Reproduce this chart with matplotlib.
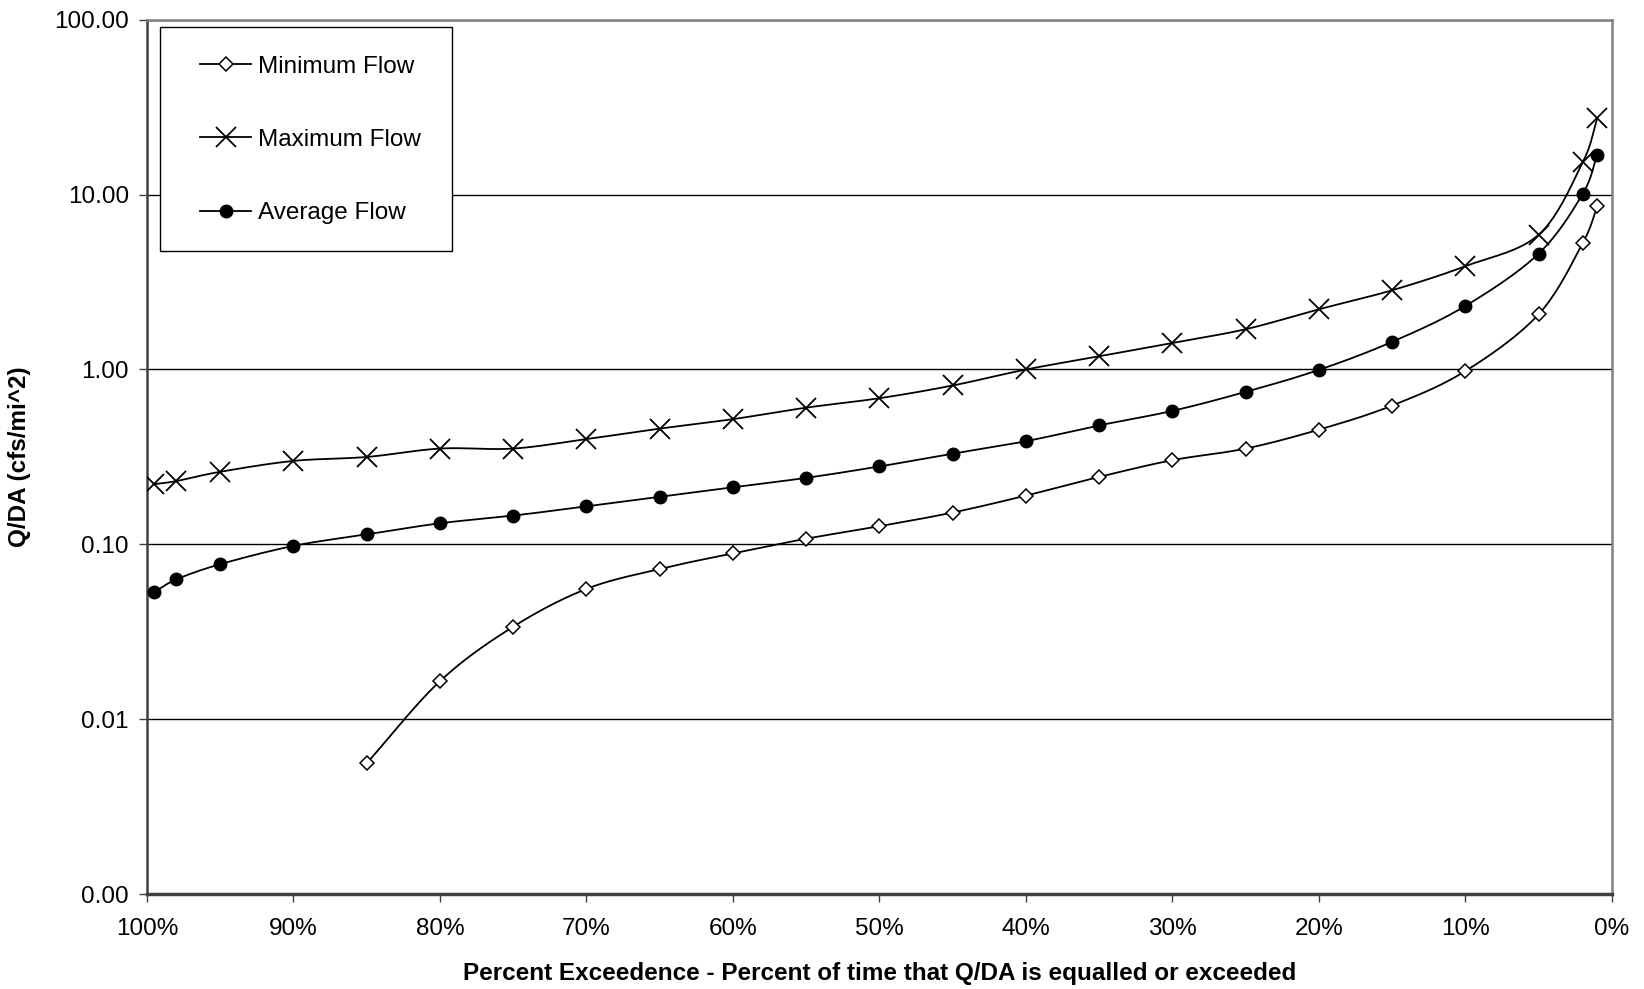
import numpy as np
import matplotlib
matplotlib.use("Agg")
import matplotlib.pyplot as plt
from matplotlib.lines import Line2D
from matplotlib.patches import Rectangle
from matplotlib.ticker import FuncFormatter, FixedLocator, NullLocator

plt.rcParams['font.family'] = ['Liberation Sans', 'DejaVu Sans']

# percent exceedence
pct_max = [99.5, 98, 95, 90, 85, 80, 75, 70, 65, 60, 55, 50, 45, 40, 35, 30, 25, 20, 15, 10, 5, 2, 1]
max_flow = [0.221, 0.23, 0.26, 0.30, 0.316, 0.353, 0.353, 0.40, 0.459, 0.52, 0.605, 0.685, 0.81, 1.0,
            1.19, 1.42, 1.70, 2.21, 2.84, 3.90, 5.9, 15.3, 27.3]

pct_avg = [99.5, 98, 95, 90, 85, 80, 75, 70, 65, 60, 55, 50, 45, 40, 35, 30, 25, 20, 15, 10, 5, 2, 1]
avg_flow = [0.0533, 0.063, 0.077, 0.098, 0.114, 0.132, 0.146, 0.165, 0.187, 0.212, 0.24, 0.279, 0.33,
            0.389, 0.479, 0.58, 0.745, 0.995, 1.44, 2.31, 4.60, 10.1, 16.9]

pct_min = [85, 80, 75, 70, 65, 60, 55, 50, 45, 40, 35, 30, 25, 20, 15, 10, 5, 2, 1]
min_flow = [0.0056, 0.0165, 0.0338, 0.0556, 0.0723, 0.0888, 0.1077, 0.127, 0.152, 0.19, 0.243, 0.303,
            0.353, 0.453, 0.622, 0.98, 2.07, 5.28, 8.57]

xticks = [100, 90, 80, 70, 60, 50, 40, 30, 20, 10, 0]
yticks = [0.001, 0.01, 0.1, 1, 10, 100]


def smooth(x, y, n=20):
    # catmull-rom through the points, done in x / log10(y) space (like excel smoothed lines)
    px = np.asarray(x, float)
    py = np.log10(np.asarray(y, float))
    px = np.concatenate([[2 * px[0] - px[1]], px, [2 * px[-1] - px[-2]]])
    py = np.concatenate([[2 * py[0] - py[1]], py, [2 * py[-1] - py[-2]]])
    t = np.linspace(0, 1, n)
    ox, oy = [], []
    for i in range(1, len(px) - 2):
        for p, out in ((px, ox), (py, oy)):
            p0, p1, p2, p3 = p[i - 1], p[i], p[i + 1], p[i + 2]
            out.append(0.5 * (2 * p1 + (-p0 + p2) * t + (2 * p0 - 5 * p1 + 4 * p2 - p3) * t ** 2
                              + (-p0 + 3 * p1 - 3 * p2 + p3) * t ** 3))
    return np.concatenate(ox), 10 ** np.concatenate(oy)


fs = 17.5
fig = plt.figure(figsize=(16.44, 9.89), dpi=100)
ax = fig.add_axes([0.0894, 0.096, 0.8911, 0.884])

lw = 1.3
series = [
    (pct_min, min_flow, dict(marker='D', ms=7, mfc='white', mec='black', mew=1.1), 'Minimum Flow'),
    (pct_max, max_flow, dict(marker='x', ms=14, mec='black', mew=1.3), 'Maximum Flow'),
    (pct_avg, avg_flow, dict(marker='o', ms=9, mfc='black', mec='black'), 'Average Flow'),
]
handles = []
for x, y, mk, name in series:
    sx, sy = smooth(x, y)
    ax.plot(sx, sy, color='black', lw=lw, zorder=3)
    ax.plot(x, y, ls='none', zorder=4, **mk)
    handles.append(Line2D([], [], color='black', lw=lw, label=name, **mk))

ax.set_yscale('log')
ax.set_ylim(0.001, 100)
ax.yaxis.set_major_locator(FixedLocator(yticks))
ax.yaxis.set_minor_locator(NullLocator())
ax.yaxis.set_major_formatter(FuncFormatter(lambda v, p: '%.2f' % v))
ax.set_xlim(100, 0)
ax.set_xticks(xticks)
ax.set_xticklabels(['%d%%' % v for v in xticks])

ax.grid(axis='y', color='black', lw=1.0)
ax.set_axisbelow(True)
ax.spines['left'].set_color('#404040')
ax.spines['left'].set_linewidth(1.8)
ax.spines['bottom'].set_color('#404040')
ax.spines['bottom'].set_linewidth(2.5)
ax.spines['right'].set_color('#808080')
ax.spines['right'].set_linewidth(1.8)
ax.spines['top'].set_color('#808080')
ax.spines['top'].set_linewidth(1.8)
ax.tick_params(axis='both', direction='out', length=6, width=1, color='#404040', labelsize=fs)
ax.tick_params(axis='x', pad=11)
ax.tick_params(axis='y', pad=7)

ax.set_xlabel('Percent Exceedence - Percent of time that Q/DA is equalled or exceeded',
              fontsize=fs, fontweight='bold', labelpad=16)
ax.set_ylabel('Q/DA (cfs/mi^2)', fontsize=fs, fontweight='bold', labelpad=17)

# legend box drawn by hand, legend itself without frame
box = Rectangle((0.0092, 0.7351), 0.199, 0.2565, transform=ax.transAxes, facecolor='white',
                edgecolor='black', lw=1.0, zorder=5)
ax.add_patch(box)
leg = ax.legend(handles=handles, loc='upper left', bbox_to_anchor=(0.0362, 0.9587),
                frameon=False, fontsize=fs, labelspacing=2.1, borderpad=0,
                handlelength=2.1, handletextpad=0.3, borderaxespad=0)
leg.set_zorder(6)

fig.savefig('out.png', dpi=100)
